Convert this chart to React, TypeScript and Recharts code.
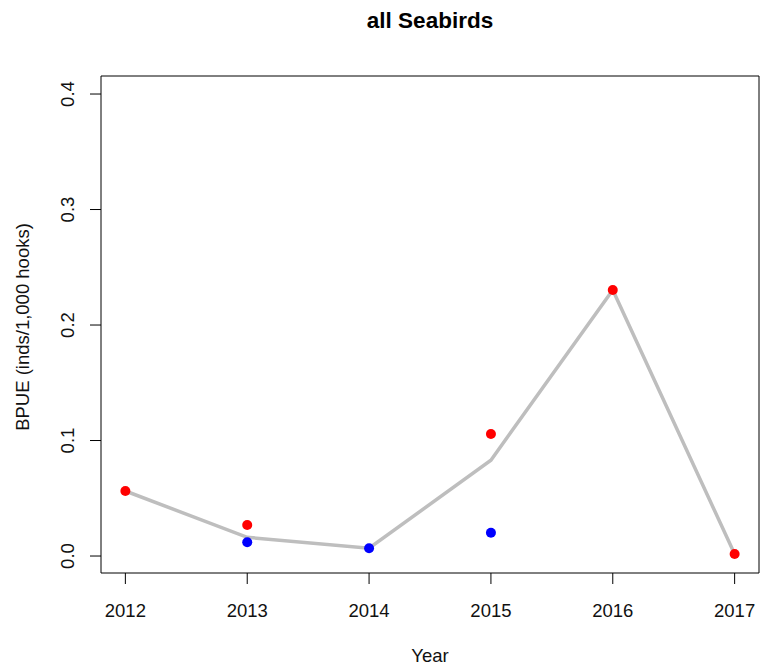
import { ComposedChart, Line, Scatter, XAxis, YAxis, ReferenceArea } from 'recharts';

const YEARS = [2012, 2013, 2014, 2015, 2016, 2017];
const TREND = [0.0563, 0.0162, 0.0067, 0.083, 0.2303, 0.0017];
const RED_YEARS = [2012, 2013, 2015, 2016, 2017];
const RED_VALS = [0.0563, 0.0268, 0.1056, 0.2303, 0.0017];
const BLUE_YEARS = [2013, 2014, 2015];
const BLUE_VALS = [0.0119, 0.0067, 0.0202];
const Y_TICKS = [0, 0.1, 0.2, 0.3, 0.4];

const FONT = '"Liberation Sans", Arial, sans-serif';
const X_DOM: [number, number] = [2011.8, 2017.2];
const Y_DOM: [number, number] = [-0.0147, 0.4156];

const trendData = YEARS.map((y, i) => ({ year: y, v: TREND[i] }));
const redData = RED_YEARS.map((y, i) => ({ year: y, v: RED_VALS[i] }));
const blueData = BLUE_YEARS.map((y, i) => ({ year: y, v: BLUE_VALS[i] }));

const dot = (fill: string) => (p: any) => <circle cx={p.cx} cy={p.cy} r={5} fill={fill} />;

const XTick = (p: any) => (
  <text x={p.x} y={617} textAnchor="middle" fontSize={18.5} fontFamily={FONT} fill="#111">{p.payload.value}</text>
);
const YTick = (p: any) => (
  <text x={74} y={p.y} transform={`rotate(-90 74 ${p.y})`} textAnchor="middle" fontSize={18.5} fontFamily={FONT} fill="#111">
    {p.payload.value.toFixed(1)}
  </text>
);

export default function App() {
  return (
    <div style={{ position: 'absolute', left: 0, top: 0, width: 760, height: 668, background: '#fff' }}>
      <ComposedChart width={760} height={668} margin={{ top: 76, right: 1, bottom: 0, left: 0 }}>
        <XAxis type="number" dataKey="year" domain={X_DOM} ticks={YEARS} allowDataOverflow
          axisLine={false} tickSize={11} tickLine={{ stroke: '#000' }} tick={<XTick />} height={95} />
        <YAxis type="number" dataKey="v" domain={Y_DOM} ticks={Y_TICKS} allowDataOverflow
          axisLine={false} tickSize={11} tickLine={{ stroke: '#000' }} tick={<YTick />} width={101} />
        <ReferenceArea x1={X_DOM[0]} x2={X_DOM[1]} y1={Y_DOM[0]} y2={Y_DOM[1]} fill="none" stroke="#000" strokeWidth={1} ifOverflow="visible" />
        <Line data={trendData} dataKey="v" stroke="#bebebe" strokeWidth={3.5} dot={false} isAnimationActive={false} />
        <Scatter data={redData} dataKey="v" shape={dot('#ff0000')} isAnimationActive={false} />
        <Scatter data={blueData} dataKey="v" shape={dot('#0000ff')} isAnimationActive={false} />
      </ComposedChart>
      <svg width={760} height={668} style={{ position: 'absolute', left: 0, top: 0, pointerEvents: 'none' }}>
        <text x={430} y={28} textAnchor="middle" fontSize={22.5} fontWeight="bold" fontFamily={FONT} fill="#000">all Seabirds</text>
        <text x={430} y={662} textAnchor="middle" fontSize={18.5} fontFamily={FONT} fill="#111">Year</text>
        <text x={29} y={327} transform="rotate(-90 29 327)" textAnchor="middle" fontSize={18.5} fontFamily={FONT} fill="#111">BPUE (inds/1,000 hooks)</text>
      </svg>
    </div>
  );
}
